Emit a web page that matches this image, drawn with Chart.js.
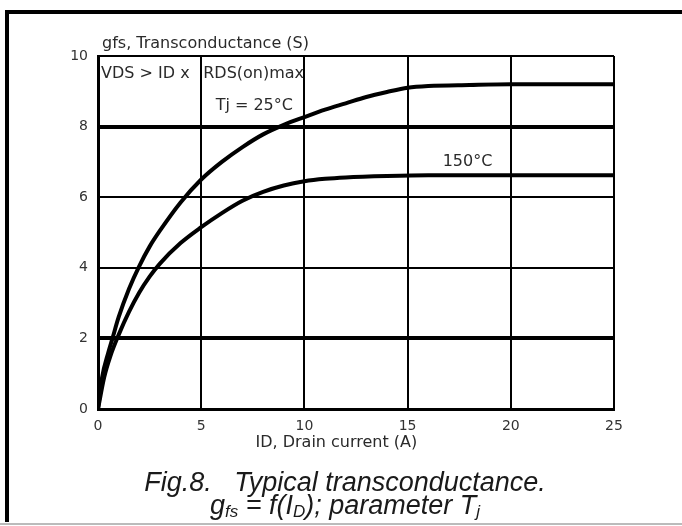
<!DOCTYPE html>
<html>
<head>
<meta charset="utf-8">
<script src="https://cdn.jsdelivr.net/npm/chart.js@4.4.0/dist/chart.umd.min.js"></script>
<style>
  html, body { margin: 0; padding: 0; background: #fff; }
  #wrap { position: relative; width: 682px; height: 526px; }
</style>
</head>
<body>
<div id="wrap"><canvas id="fig8" width="682" height="526"></canvas></div>
<script>
// drain current ID (A) and transconductance gfs (S)
const id25 = [0, 0.2, 0.5, 0.7, 1, 1.5, 2, 2.5, 3, 4, 5, 6, 7, 8, 9, 10, 11, 12, 13, 14, 15, 16, 18, 20, 25];
const gfs25 = [0, 0.9, 1.6, 2.0, 2.6, 3.4, 4.05, 4.6, 5.05, 5.85, 6.5, 7.0, 7.42, 7.78, 8.05, 8.27, 8.48, 8.66, 8.84, 8.98, 9.1, 9.15, 9.18, 9.2, 9.2];

const id150 = [0, 0.3, 0.6, 1, 1.5, 2, 2.5, 3, 4, 5, 6, 7, 8, 9, 10, 11, 12, 14, 16, 25];
const gfs150 = [0, 0.9, 1.5, 2.1, 2.75, 3.3, 3.75, 4.12, 4.7, 5.15, 5.55, 5.9, 6.15, 6.33, 6.45, 6.52, 6.56, 6.6, 6.62, 6.62];

const xTicks = [0, 5, 10, 15, 20, 25];
const yTicks = [0, 2, 4, 6, 8, 10];
const heavyY = [2, 8];   // grid lines printed heavier in the original

const toPts = (xs, ys) => xs.map((x, i) => ({ x: x, y: ys[i] }));

const SANS = '"DejaVu Sans", sans-serif';
const CAP = '"Liberation Sans", Arial, sans-serif';

// labels, frame and caption that live outside chart.js's own elements
const decor = {
  id: 'decor',
  afterDraw(chart) {
    const ctx = chart.ctx;
    const xs = chart.scales.x, ys = chart.scales.y;
    const area = chart.chartArea;
    ctx.save();

    // outer frame: heavy left/top, thin grey bottom
    ctx.fillStyle = '#000';
    ctx.fillRect(5, 10, 4, 512);
    ctx.fillRect(5, 10, 677, 4);
    ctx.fillStyle = '#bbb';
    ctx.fillRect(0, 523, 682, 2);

    ctx.fillStyle = '#2a2a2a';
    ctx.textBaseline = 'middle';
    ctx.textAlign = 'left';
    ctx.font = '16px ' + SANS;
    ctx.fillText('gfs, Transconductance (S)', area.left + 4, area.top - 12);

    ctx.fillText('VDS > ID x', area.left + 3, ys.getPixelForValue(9.49));
    ctx.fillText('RDS(on)max', xs.getPixelForValue(5) + 2, ys.getPixelForValue(9.49));
    ctx.fillText('Tj = 25\u00B0C', xs.getPixelForValue(5.7), ys.getPixelForValue(8.6));
    ctx.fillText('150\u00B0C', xs.getPixelForValue(16.7), ys.getPixelForValue(7.0));

    ctx.textAlign = 'center';
    ctx.fillText('ID, Drain current (A)', xs.getPixelForValue(11.55), area.bottom + 34);

    // caption
    const mid = 345;
    ctx.fillStyle = '#1a1a1a';
    ctx.font = 'italic 27px ' + CAP;
    ctx.fillText('Fig.8.   Typical transconductance.', mid, 483);

    // second caption line with subscripts
    const y2 = 506;
    const parts = [
      ['g', 27, 0], ['fs', 17, 6], [' = f(I', 27, 0], ['D', 17, 6], ['); parameter T', 27, 0], ['j', 17, 6]
    ];
    let total = 0;
    parts.forEach(p => { ctx.font = 'italic ' + p[1] + 'px ' + CAP; total += ctx.measureText(p[0]).width; });
    let cx = mid - total / 2;
    ctx.textAlign = 'left';
    parts.forEach(p => {
      ctx.font = 'italic ' + p[1] + 'px ' + CAP;
      ctx.fillText(p[0], cx, y2 + p[2]);
      cx += ctx.measureText(p[0]).width;
    });

    ctx.restore();
  }
};

new Chart(document.getElementById('fig8'), {
  type: 'scatter',
  data: {
    datasets: [
      {
        label: 'Tj = 25 C',
        data: toPts(id25, gfs25),
        showLine: true,
        borderColor: '#000',
        borderWidth: 4,
        pointRadius: 0,
        cubicInterpolationMode: 'monotone'
      },
      {
        label: 'Tj = 150 C',
        data: toPts(id150, gfs150),
        showLine: true,
        borderColor: '#000',
        borderWidth: 4,
        pointRadius: 0,
        cubicInterpolationMode: 'monotone'
      }
    ]
  },
  options: {
    responsive: false,
    animation: false,
    layout: { padding: { top: 56, right: 68, left: 0, bottom: 0 } },
    plugins: {
      legend: { display: false },
      tooltip: { enabled: false }
    },
    scales: {
      x: {
        type: 'linear',
        min: 0, max: 25,
        afterFit: s => { s.height = 117; },
        afterBuildTicks: s => { s.ticks = xTicks.map(v => ({ value: v })); },
        grid: { color: '#000', lineWidth: 2, drawTicks: false },
        border: { color: '#000', width: 3 },
        ticks: { color: '#333', padding: 9, font: { family: SANS, size: 14 } }
      },
      y: {
        type: 'linear',
        min: 0, max: 10,
        afterFit: s => { s.width = 98; },
        afterBuildTicks: s => { s.ticks = yTicks.map(v => ({ value: v })); },
        grid: {
          color: '#000',
          drawTicks: false,
          lineWidth: c => heavyY.includes(c.tick.value) ? 4 : 2
        },
        border: { color: '#000', width: 3 },
        ticks: { color: '#333', padding: 10, font: { family: SANS, size: 14 } }
      }
    }
  },
  plugins: [decor]
});
</script>
</body>
</html>
